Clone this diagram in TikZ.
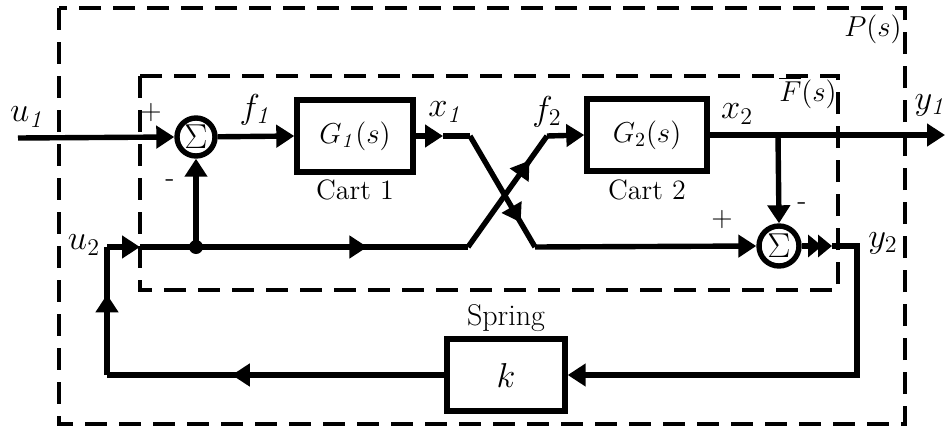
\documentclass[tikz,border=0pt]{standalone}
\usetikzlibrary{arrows.meta,decorations.markings}
\tikzset{
  tipa/.tip={Triangle[length=9pt,width=11pt]},
  sig/.style={line width=2.7pt, line join=miter},
  blk/.style={draw, line width=2.7pt, minimum width=58pt, minimum height=36pt, inner sep=0pt, font=\fontsize{14pt}{16pt}\selectfont},
  sumn/.style={circle, draw, line width=2.7pt, minimum size=19pt, inner sep=0pt, font=\fontsize{16pt}{18pt}\selectfont},
  boxd/.style={line width=1.7pt, dash pattern=on 11pt off 6pt},
  lbl/.style={inner sep=0pt},
  mlbl/.style={inner sep=0pt, font=\fontsize{17pt}{19pt}\selectfont},
  midarrow/.style={postaction={decorate}, decoration={markings, mark=at position #1 with {\arrow{tipa}}}},
  every node/.style={font=\fontsize{14pt}{16pt}\selectfont}
}
\begin{document}
\begin{tikzpicture}[x=0.5pt,y=-0.5pt]
\useasboundingbox (0,0) rectangle (952,428);
% dashed boxes
\draw[boxd] (59,8) rectangle (905,424);
\draw[boxd] (140,76) rectangle (838,290);
% blocks
\node[sumn] (s1) at (196,137) {$\Sigma$};
\node[blk] (G1) at (355,136) {$G_{\mathit{1}}(s)$};
\node[blk, minimum width=60pt] (G2) at (647,135) {$G_2(s)$};
\node[sumn, minimum size=20pt] (s2) at (779,246) {$\Sigma$};
\node[blk, minimum width=59pt, font=\fontsize{17pt}{19pt}\selectfont] (K) at (506,375) {$k$};
% coordinates
\coordinate (u1s) at (18,138);
\coordinate (ax1) at (443,136);
\coordinate (c1) at (470,136);
\coordinate (c2) at (535,247);
\coordinate (d1) at (468,247);
\coordinate (d2) at (547,136);
\coordinate (jn) at (196,247);
\coordinate (u2c) at (107,247);
\coordinate (u2in) at (140,247);
\coordinate (br) at (778,135);
\coordinate (y1e) at (945,135);
\coordinate (y2a) at (832,246);
\coordinate (y2c) at (857,246);
\coordinate (y2d) at (857,375);
\coordinate (lc) at (107,375);
% connectors
\draw[sig,-tipa] (u1s) -- (s1.west);
\draw[sig,-tipa] (s1) -- (G1.west);
\draw[sig,-tipa] (G1.east) -- (ax1);
\draw[sig] (ax1) -- (c1);
\draw[sig,midarrow=0.78] (c1) -- (c2);
\draw[sig,-tipa] (c2) -- (s2.west);
\draw[sig] (u2in) -- (jn);
\draw[sig,midarrow=0.63] (jn) -- (d1);
\draw[sig,midarrow=0.78] (d1) -- (d2);
\draw[sig,-tipa] (d2) -- (G2.west);
\draw[sig,-tipa] (G2.east) -- (y1e);
\draw[sig,-tipa] (br) -- (s2.north);
\draw[sig,-{Triangle[length=7pt,width=11pt,sep=-2pt]Triangle[length=7pt,width=11pt]}] (s2.east) -- (y2a);
\draw[sig,-tipa] (y2a) -- (y2c) -- (y2d) -- (K.east);
\draw[sig,midarrow=0.63] (K.west) -- (lc);
\draw[sig,midarrow=0.63] (lc) -- (u2c);
\draw[sig,-tipa] (u2c) -- (u2in);
\draw[sig,-tipa] (jn) -- (s1.south);
\fill (jn) circle (7);
% labels
\node[lbl] (lP) at (873,29) {$P(s)$};
\node[lbl] (lF) at (808,93) {$\overline{F}(s)$};
\node[mlbl] (lu1) at (28,117) {$u_{\mathit{1}}$};
\node[mlbl] (lf1) at (256,110) {$f_{\mathit{1}}$};
\node[mlbl] (lx1) at (446,112) {$x_{\mathit{1}}$};
\node[mlbl] (lf2) at (547,112) {$f_2$};
\node[mlbl] (lx2) at (737,114) {$x_2$};
\node[mlbl] (ly1) at (931,105) {$y_{\mathit{1}}$};
\node[mlbl] (lu2) at (84,245) {$u_2$};
\node[mlbl] (ly2) at (883,243) {$y_2$};
\node[lbl] (lc1) at (355,190) {Cart 1};
\node[lbl] (lc2) at (647,190) {Cart 2};
\node[lbl, font=\fontsize{15pt}{17pt}\selectfont] (lsp) at (506,318) {Spring};
\node[lbl] (p1) at (151,113) {+};
\node[lbl] (m1) at (170,183) {-};
\node[lbl] (p2) at (722,220) {+};
\node[lbl] (m2) at (802,206) {-};
\end{tikzpicture}
\end{document}
